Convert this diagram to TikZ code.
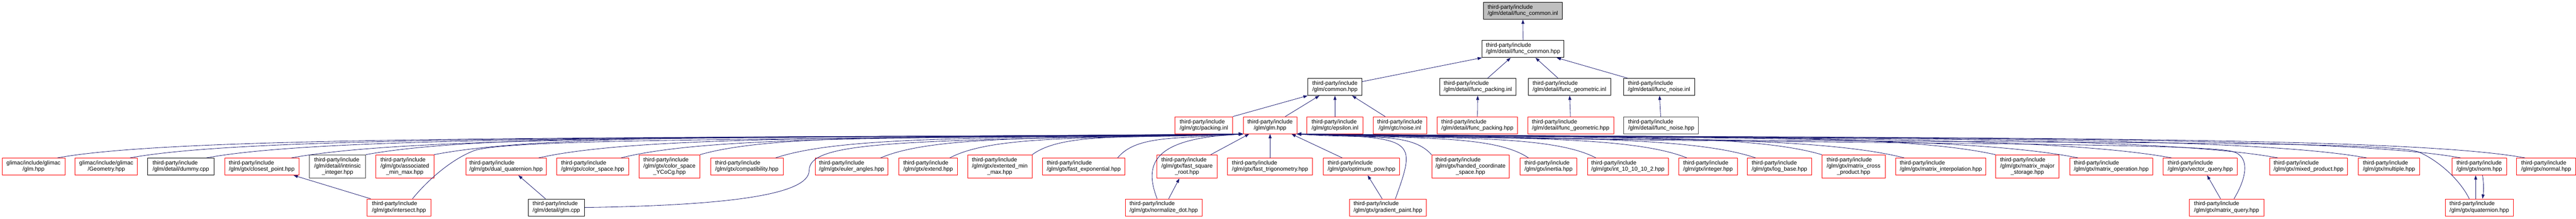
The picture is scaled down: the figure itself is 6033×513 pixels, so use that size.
\documentclass[tikz,border=0pt]{standalone}
\usepackage{fontspec}
\setmainfont{Liberation Sans}
\usetikzlibrary{arrows.meta}
\definecolor{edgeblue}{RGB}{25,25,112}
\definecolor{topfill}{RGB}{191,191,191}
\definecolor{dgray}{RGB}{64,64,64}
\newcommand\lbltwo[2]{\begin{tabular}{@{}l@{}}#1\\\multicolumn{1}{@{}c@{}}{#2}\end{tabular}}
\newcommand\lblthree[3]{\begin{tabular}{@{}l@{}}#1\\#2\\\multicolumn{1}{@{}c@{}}{#3}\end{tabular}}
\newcommand\tpi{third-party/include}
\tikzset{
  box/.style={draw, rectangle, inner sep=0pt, minimum height=40pt, line width=1pt,
    font=\fontsize{13.3}{14.7}\selectfont},
  rbox/.style={box, draw=red},
  kbox/.style={box, draw=black},
  gbox/.style={box, draw=dgray},
  tall/.style={minimum height=55pt},
  edge/.style={draw=edgeblue, line width=1pt, -{Triangle[length=10pt,width=7pt]}}
}
\begin{document}
\begin{tikzpicture}[x=1pt,y=-1pt]
\useasboundingbox (0,0) rectangle (6033,513);
% rank 0-2
\node[kbox, fill=topfill, minimum width=185pt] (fci) at (3566.5,25.5) {\lbltwo{\tpi}{/glm/detail/func\_common.inl}};
\node[kbox, minimum width=192pt] (fch) at (3567,115) {\lbltwo{\tpi}{/glm/detail/func\_common.hpp}};
\node[kbox, minimum width=127pt] (common) at (3126.5,204) {\lbltwo{\tpi}{/glm/common.hpp}};
\node[kbox, minimum width=178pt] (fpinl) at (3461,204) {\lbltwo{\tpi}{/glm/detail/func\_packing.inl}};
\node[kbox, minimum width=193pt] (fginl) at (3675.5,204) {\lbltwo{\tpi}{/glm/detail/func\_geometric.inl}};
\node[kbox, minimum width=167pt] (fninl) at (3885.5,204) {\lbltwo{\tpi}{/glm/detail/func\_noise.inl}};
% rank 3
\node[rbox, minimum width=135pt] (pkinl) at (2819.5,294) {\lbltwo{\tpi}{/glm/gtc/packing.inl}};
\node[rbox, minimum width=125pt] (glm) at (2974.5,294) {\lbltwo{\tpi}{/glm/glm.hpp}};
\node[rbox, minimum width=131pt] (eps) at (3126.5,294) {\lbltwo{\tpi}{/glm/gtc/epsilon.inl}};
\node[rbox, minimum width=125pt] (noise) at (3278.5,294) {\lbltwo{\tpi}{/glm/gtc/noise.inl}};
\node[rbox, minimum width=188pt] (fphpp) at (3460,294) {\lbltwo{\tpi}{/glm/detail/func\_packing.hpp}};
\node[rbox, minimum width=201pt] (fghpp) at (3678.5,294) {\lbltwo{\tpi}{/glm/detail/func\_geometric.hpp}};
\node[gbox, minimum width=175pt] (fnhpp) at (3890.5,294) {\lbltwo{\tpi}{/glm/detail/func\_noise.hpp}};
% rank 4
\node[rbox, minimum width=147pt] (glglm) at (78.5,391) {\lbltwo{glimac/include/glimac}{/glm.hpp}};
\node[rbox, minimum width=146pt] (glgeom) at (249,391) {\lbltwo{glimac/include/glimac}{/Geometry.hpp}};
\node[kbox, minimum width=155pt] (dummy) at (423.5,391) {\lbltwo{\tpi}{/glm/detail/dummy.cpp}};
\node[rbox, minimum width=174pt] (closest) at (613,391) {\lbltwo{\tpi}{/glm/gtx/closest\_point.hpp}};
\node[gbox, tall, minimum width=131pt] (intrinsic) at (790.5,391) {\lblthree{\tpi}{/glm/detail/intrinsic}{\_integer.hpp}};
\node[rbox, tall, minimum width=136pt] (assoc) at (948,391) {\lblthree{\tpi}{/glm/gtx/associated}{\_min\_max.hpp}};
\node[rbox, minimum width=188pt] (dualq) at (1185,391) {\lbltwo{\tpi}{/glm/gtx/dual\_quaternion.hpp}};
\node[rbox, minimum width=168pt] (colorsp) at (1388,391) {\lbltwo{\tpi}{/glm/gtx/color\_space.hpp}};
\node[rbox, tall, minimum width=142pt] (ycocg) at (1568,391) {\lblthree{\tpi}{/glm/gtx/color\_space}{\_YCoCg.hpp}};
\node[rbox, minimum width=170pt] (compat) at (1749,391) {\lbltwo{\tpi}{/glm/gtx/compatibility.hpp}};
\node[rbox, minimum width=171pt] (euler) at (1994.5,391) {\lbltwo{\tpi}{/glm/gtx/euler\_angles.hpp}};
\node[rbox, minimum width=137pt] (extend) at (2173.5,391) {\lbltwo{\tpi}{/glm/gtx/extend.hpp}};
\node[rbox, tall, minimum width=151pt] (extented) at (2341.5,391) {\lblthree{\tpi}{/glm/gtx/extented\_min}{\_max.hpp}};
\node[rbox, minimum width=194pt] (fastexp) at (2538,391) {\lbltwo{\tpi}{/glm/gtx/fast\_exponential.hpp}};
\node[rbox, tall, minimum width=142pt] (fastsq) at (2780,391) {\lblthree{\tpi}{/glm/gtx/fast\_square}{\_root.hpp}};
\node[rbox, minimum width=199pt] (fasttrig) at (2974.5,391) {\lbltwo{\tpi}{/glm/gtx/fast\_trigonometry.hpp}};
\node[rbox, minimum width=179pt] (optpow) at (3188.5,391) {\lbltwo{\tpi}{/glm/gtx/optimum\_pow.hpp}};
\node[rbox, tall, minimum width=182pt] (handed) at (3444,391) {\lblthree{\tpi}{/glm/gtx/handed\_coordinate}{\_space.hpp}};
\node[rbox, minimum width=133pt] (inertia) at (3626.5,391) {\lbltwo{\tpi}{/glm/gtx/inertia.hpp}};
\node[rbox, minimum width=189pt] (int10) at (3812.5,391) {\lbltwo{\tpi}{/glm/gtx/int\_10\_10\_10\_2.hpp}};
\node[rbox, minimum width=138pt] (integer) at (4000,391) {\lbltwo{\tpi}{/glm/gtx/integer.hpp}};
\node[rbox, minimum width=151pt] (logbase) at (4167.5,391) {\lbltwo{\tpi}{/glm/gtx/log\_base.hpp}};
\node[rbox, tall, minimum width=148pt] (matcross) at (4341,391) {\lblthree{\tpi}{/glm/gtx/matrix\_cross}{\_product.hpp}};
\node[rbox, minimum width=211pt] (matinterp) at (4545.5,391) {\lbltwo{\tpi}{/glm/gtx/matrix\_interpolation.hpp}};
\node[rbox, tall, minimum width=148pt] (matmajor) at (4748,391) {\lblthree{\tpi}{/glm/gtx/matrix\_major}{\_storage.hpp}};
\node[rbox, minimum width=195pt] (matop) at (4944.5,391) {\lbltwo{\tpi}{/glm/gtx/matrix\_operation.hpp}};
\node[rbox, minimum width=174pt] (vecquery) at (5153,391) {\lbltwo{\tpi}{/glm/gtx/vector\_query.hpp}};
\node[rbox, minimum width=183pt] (mixed) at (5406.5,391) {\lbltwo{\tpi}{/glm/gtx/mixed\_product.hpp}};
\node[rbox, minimum width=144pt] (multiple) at (5595,391) {\lbltwo{\tpi}{/glm/gtx/multiple.hpp}};
\node[rbox, minimum width=127pt] (norm) at (5806.5,391) {\lbltwo{\tpi}{/glm/gtx/norm.hpp}};
\node[rbox, minimum width=138pt] (normal) at (5963,391) {\lbltwo{\tpi}{/glm/gtx/normal.hpp}};
% rank 5
\node[rbox, minimum width=149pt] (intersect) at (934.5,487) {\lbltwo{\tpi}{/glm/gtx/intersect.hpp}};
\node[kbox, minimum width=132pt] (glmcpp) at (1303,487) {\lbltwo{\tpi}{/glm/detail/glm.cpp}};
\node[rbox, minimum width=179pt] (normdot) at (2725.5,487) {\lbltwo{\tpi}{/glm/gtx/normalize\_dot.hpp}};
\node[rbox, minimum width=179pt] (gradient) at (3250.5,487) {\lbltwo{\tpi}{/glm/gtx/gradient\_paint.hpp}};
\node[rbox, minimum width=175pt] (matquery) at (5214.5,487) {\lbltwo{\tpi}{/glm/gtx/matrix\_query.hpp}};
\node[rbox, minimum width=159pt] (quat) at (5806.5,487) {\lbltwo{\tpi}{/glm/gtx/quaternion.hpp}};
% upper edges
\draw[edge] (fch) -- (fci);
\draw[edge] ([yshift=-8pt]common.north east) -- (fch.south west);
\draw[edge] ([xshift=23pt]fpinl.north) -- ([xshift=-29pt]fch.south);
\draw[edge] ([xshift=-26.5pt]fginl.north) -- ([xshift=29pt]fch.south);
\draw[edge] ([xshift=-73.5pt]fninl.north) -- ([xshift=-18pt]fch.south east);
\draw[edge] (pkinl.north east) -- (common.south west);
\draw[edge] ([xshift=35.5pt]glm.north) -- ([xshift=-36.5pt]common.south);
\draw[edge] (eps) -- (common);
\draw[edge] ([xshift=-34.5pt]noise.north) -- ([xshift=40pt]common.south);
\draw[edge] (fphpp) -- (fpinl);
\draw[edge] (fghpp) -- (fginl);
\draw[edge] (fnhpp) -- (fninl);
% left bundle into glm.hpp
\foreach \n/\d/\s in {glglm/2778/-18pt, glgeom/2608/-18pt, dummy/2429/-18pt, closest/2230/-18pt,
  intrinsic/2056/0pt, assoc/1896/0pt, dualq/1651/-18pt, colorsp/1458/-18pt, ycocg/1273/0pt,
  compat/1096/-18pt, euler/850/-18pt, extend/688/-18pt, extented/495/0pt, fastexp/295/-18pt} {
  \pgfmathsetmacro\cx{min(0.15*\d,300)}
  \pgfmathsetmacro\cy{0.5*\d}
  \draw[edge] ([xshift=\s]\n.north east) .. controls +(\cx,-55) and +(-\cy,12) .. (glm.south west);
}
% right bundle into glm.hpp
\foreach \n/\d/\s in {handed/316/0pt, inertia/543/20pt, int10/701/20pt, integer/914/20pt,
  logbase/1075/20pt, matcross/1230/0pt, matinterp/1423/20pt, matmajor/1637/0pt, matop/1830/20pt,
  vecquery/2049/20pt, mixed/2298/20pt, multiple/2506/20pt, norm/2726/20pt, normal/2877/20pt} {
  \pgfmathsetmacro\cx{min(0.15*\d,300)}
  \pgfmathsetmacro\cy{0.5*\d}
  \draw[edge] ([xshift=\s]\n.north west) .. controls +(-\cx,-55) and +(\cy,12) .. (glm.south east);
}
\draw[edge] ([xshift=-16pt]fastsq.north east) -- ([xshift=14pt]glm.south west);
\draw[edge] (fasttrig) -- (glm);
\draw[edge] ([xshift=-45pt]optpow.north) -- ([xshift=50pt]glm.south);
% rank 5 edges
\draw[edge] ([xshift=-66.5pt]intersect.north) -- ([xshift=-13pt]closest.south east);
\draw[edge] ([xshift=31.5pt]intersect.north) .. controls +(45,-55) and +(-45,15) .. (1115,352)
  .. controls +(120,-30) and +(-900,14) .. (glm.south west);
\draw[edge] ([xshift=-25.5pt]glmcpp.north) -- ([xshift=29pt]dualq.south);
\draw[edge] (glmcpp.east) .. controls +(350,-5) and +(0,55) .. (1895,400)
  .. controls +(0,-70) and +(-800,16) .. (glm.south west);
\draw[edge] ([xshift=11.5pt]normdot.north) -- ([xshift=-18pt]fastsq.south);
\draw[edge] ([xshift=-15.5pt]normdot.north) .. controls +(-35,-90) and +(-200,10) .. (glm.south west);
\draw[edge] ([xshift=-13.5pt]gradient.north) -- ([xshift=14.5pt]optpow.south);
\draw[edge] ([xshift=17.5pt]gradient.north) .. controls +(50,-140) and +(280,8) .. (glm.south east);
\draw[edge] ([xshift=-14pt]matquery.north) -- ([xshift=16pt]vecquery.south);
\draw[edge] ([xshift=17.5pt]matquery.north) .. controls +(30,-50) and +(40,12) .. (5230,356)
  .. controls +(-80,-24) and +(1100,25) .. (glm.south east);
\draw[edge] ([xshift=-8.5pt]quat.north) -- ([xshift=-8.5pt]norm.south);
\draw[edge] ([xshift=7.5pt]norm.south) .. controls +(3,20) and +(3,-20) .. ([xshift=7.5pt]quat.north);
\draw[edge] ([xshift=-23.5pt]quat.north) .. controls +(-25,-50) and +(40,17) .. (5665,357)
  .. controls +(-80,-34) and +(1300,28) .. (glm.south east);
\end{tikzpicture}
\end{document}
